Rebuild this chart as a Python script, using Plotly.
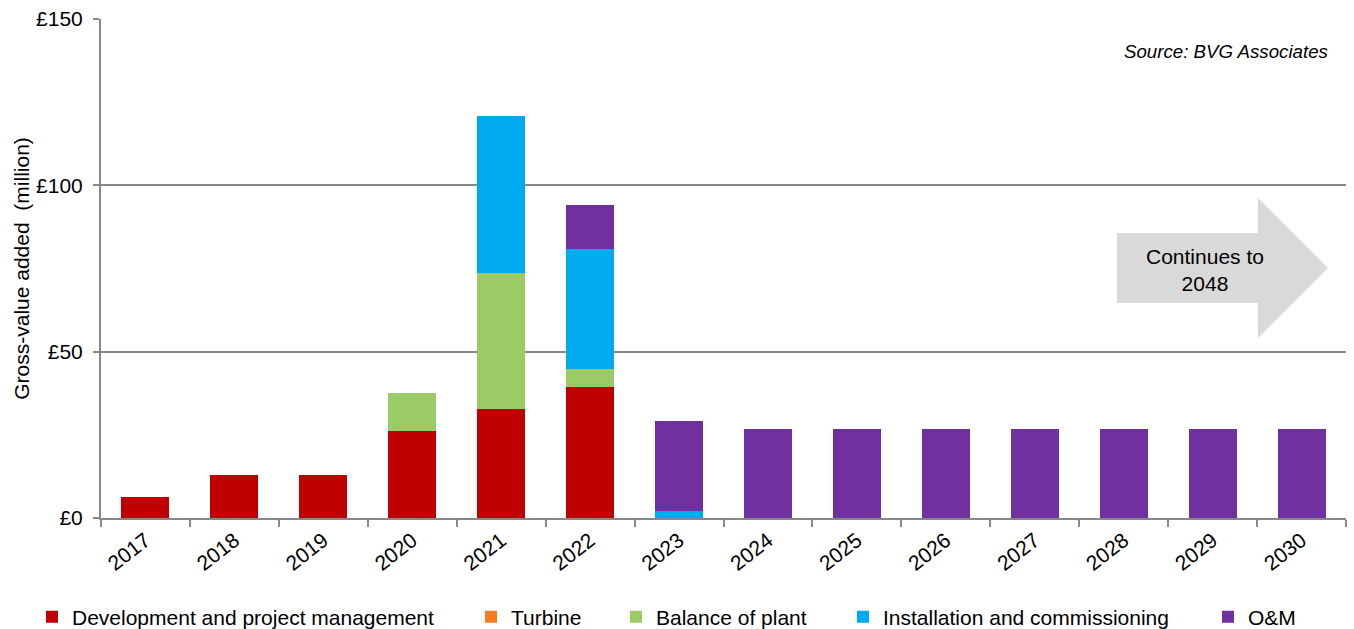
import plotly.graph_objects as go

years = ["2017", "2018", "2019", "2020", "2021", "2022", "2023",
         "2024", "2025", "2026", "2027", "2028", "2029", "2030"]

development = [6.3, 12.9, 12.9, 26.1, 32.8, 39.4, 0, 0, 0, 0, 0, 0, 0, 0]
turbine = [0, 0, 0, 0, 0, 0, 0, 0, 0, 0, 0, 0, 0, 0]
balance_of_plant = [0, 0, 0, 11.5, 40.8, 5.4, 0, 0, 0, 0, 0, 0, 0, 0]
installation = [0, 0, 0, 0, 47.2, 36.1, 2.2, 0, 0, 0, 0, 0, 0, 0]
om = [0, 0, 0, 0, 0, 13.2, 27.0, 26.7, 26.7, 26.7, 26.7, 26.7, 26.7, 26.7]

series = [
    ("Development and project management", development, "#C00000"),
    ("Turbine", turbine, "#F47B20"),
    ("Balance of plant", balance_of_plant, "#9BCB65"),
    ("Installation and commissioning", installation, "#00AAEF"),
    ("O&M", om, "#7030A0"),
]

FONT = "Liberation Sans, Arial, sans-serif"
W, H = 1354, 629

# left pixel edge of each legend entry's label, one legend per series
legend_text_x = [72, 511, 656, 883, 1248]

fig = go.Figure()
for i, (name, vals, color) in enumerate(series):
    fig.add_trace(go.Bar(
        x=years, y=vals, name=name,
        marker=dict(color=color, line=dict(width=0)),
        legend="legend" if i == 0 else f"legend{i + 1}",
    ))

# plot-area geometry in pixels, used to place the decorative arrow
L, R, T, B = 101, 1346, 19, 518


def px(x, y):
    return (x - L) / (R - L), (B - y) / (B - T)


arrow_pts = [(1117, 233), (1258, 233), (1258, 198), (1328, 268),
             (1258, 338), (1258, 303), (1117, 303)]
path = "M " + " L ".join(f"{px(x, y)[0]:.5f},{px(x, y)[1]:.5f}" for x, y in arrow_pts) + " Z"

fig.add_shape(type="path", path=path, xref="paper", yref="paper",
              fillcolor="#D9D9D9", line=dict(width=0), layer="above")

cx, cy = px(1205, 270)
fig.add_annotation(x=cx, y=cy, xref="paper", yref="paper",
                   text="Continues to<br>2048", showarrow=False,
                   font=dict(family=FONT, size=21, color="#000000"),
                   xanchor="center", yanchor="middle")

sx, sy = px(1330, 52)
fig.add_annotation(x=sx, y=sy, xref="paper", yref="paper",
                   text="<i>Source: BVG Associates</i>", showarrow=False,
                   font=dict(family=FONT, size=18.7, color="#000000"),
                   xanchor="right", yanchor="middle")

legend_font = dict(family=FONT, size=21, color="#000000")
legends = {}
for i, tx in enumerate(legend_text_x):
    key = "legend" if i == 0 else f"legend{i + 1}"
    legends[key] = dict(
        orientation="h", xref="container", yref="container",
        x=(tx - 40) / W, xanchor="left",
        y=1 - 617 / H, yanchor="middle",
        font=legend_font, itemwidth=30,
        bgcolor="rgba(0,0,0,0)",
    )

fig.update_layout(
    barmode="stack",
    bargap=0.46,
    width=W, height=H,
    margin=dict(l=L, r=W - R, t=T, b=H - B, autoexpand=False),
    paper_bgcolor="white",
    plot_bgcolor="white",
    font=dict(family=FONT, size=21, color="#000000"),
    showlegend=True,
    **legends,
    xaxis=dict(
        type="category",
        tickangle=-38,
        showline=True, linecolor="#888888", linewidth=2,
        ticks="outside", tickson="boundaries", ticklen=7,
        tickcolor="#888888", tickwidth=2,
        tickfont=dict(family=FONT, size=21),
        showgrid=False,
    ),
    yaxis=dict(
        range=[0, 150], dtick=50, tickprefix="£",
        showline=True, linecolor="#888888", linewidth=2,
        ticks="outside", ticklen=6, tickcolor="#888888", tickwidth=2,
        ticklabelstandoff=6,
        showgrid=True, gridcolor="#888888", gridwidth=1.5,
        zeroline=False,
        tickfont=dict(family=FONT, size=21),
        title=dict(text="Gross-value added  (million)",
                   font=dict(family=FONT, size=21), standoff=1),
    ),
)

fig.write_html("out.html")
